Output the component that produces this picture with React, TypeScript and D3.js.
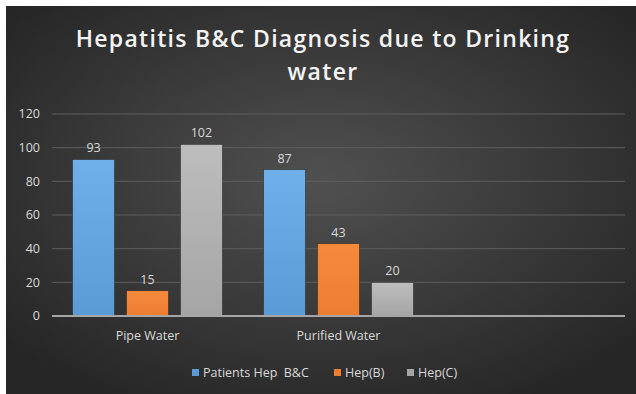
import * as d3 from "d3";

const categories = ["Pipe Water", "Purified Water", ""];
const seriesNames = ["Patients Hep  B&C", "Hep(B)", "Hep(C)"];
const patients = [93, 87, null];
const hepB = [15, 43, null];
const hepC = [102, 20, null];
const yTicks = [0, 20, 40, 60, 80, 100, 120];

const colors = ["#5b9bd5", "#ed7d31", "#a5a5a5"];
const tops = ["#6fb0ea", "#f68a3c", "#bdbdbd"];

const width = 636;
const height = 394;

const App = () => {
  const series = [patients, hepB, hepC];

  const x0 = d3.scaleBand().domain(categories).range([52, 625]).padding(0);
  const x1 = d3
    .scaleBand()
    .domain(seriesNames)
    .range([20.5, x0.bandwidth() - 20.5])
    .paddingInner(0.22);
  const y = d3.scaleLinear().domain([0, 120]).range([316, 114]);

  const labelFont = "'Open Sans', sans-serif";

  // legend layout (hand measured offsets from the picture)
  const legendX = [192, 334, 407];

  return (
    <svg
      width={width}
      height={height}
      style={{ position: "fixed", top: 0, left: 0 }}
      fontFamily={labelFont}
    >
      <defs>
        <radialGradient id="bg" cx="50%" cy="45%" r="65%">
          <stop offset="0%" stopColor="#505050" />
          <stop offset="100%" stopColor="#262626" />
        </radialGradient>
        {colors.map((c, i) => (
          <linearGradient key={i} id={`bar${i}`} x1="0" y1="0" x2="0" y2="1">
            <stop offset="0%" stopColor={tops[i]} />
            <stop offset="100%" stopColor={c} />
          </linearGradient>
        ))}
      </defs>
      <rect width={width} height={height} fill="#fff" />
      <rect x={6} y={6} width={width - 6} height={height - 6} fill="url(#bg)" />

      <text
        x={323}
        y={47}
        textAnchor="middle"
        fill="#f4f4f4"
        fontSize={23}
        fontWeight={600}
        letterSpacing={1.3}
      >
        Hepatitis B&amp;C Diagnosis due to Drinking
      </text>
      <text
        x={323}
        y={80}
        textAnchor="middle"
        fill="#f4f4f4"
        fontSize={23}
        fontWeight={600}
        letterSpacing={1.3}
      >
        water
      </text>

      {yTicks.map((t) => (
        <g key={t}>
          {t > 0 && (
            <line
              x1={52}
              x2={625}
              y1={y(t)}
              y2={y(t)}
              stroke="#5e5e5e"
              strokeWidth={1}
            />
          )}
          <text
            x={40}
            y={y(t)}
            dy="0.35em"
            textAnchor="end"
            fill="#d9d9d9"
            fontSize={12.5}
          >
            {t}
          </text>
        </g>
      ))}

      {categories.map((cat, ci) => (
        <g key={ci} transform={`translate(${x0(cat)},0)`}>
          {series.map((s, si) => {
            const v = s[ci];
            if (v == null) return null;
            const bx = x1(seriesNames[si]);
            return (
              <g key={si}>
                <rect
                  x={bx}
                  y={y(v)}
                  width={x1.bandwidth()}
                  height={y(0) - y(v)}
                  fill={`url(#bar${si})`}
                  stroke="#2a2a2a"
                  strokeWidth={0.6}
                />
                <text
                  x={bx + x1.bandwidth() / 2}
                  y={y(v) - 7}
                  textAnchor="middle"
                  fill="#d9d9d9"
                  fontSize={12.5}
                >
                  {v}
                </text>
              </g>
            );
          })}
          <text
            x={x0.bandwidth() / 2}
            y={340}
            textAnchor="middle"
            fill="#d9d9d9"
            fontSize={12.5}
          >
            {cat}
          </text>
        </g>
      ))}

      <line x1={52} x2={625} y1={y(0)} y2={y(0)} stroke="#a6a6a6" strokeWidth={2} />

      {seriesNames.map((name, i) => (
        <g key={name} transform={`translate(${legendX[i]},0)`}>
          <rect x={0} y={369} width={7} height={7} fill={colors[i]} />
          <text x={11} y={377} fill="#d9d9d9" fontSize={12.5} xmlSpace="preserve">
            {name}
          </text>
        </g>
      ))}
    </svg>
  );
};

export default App;
